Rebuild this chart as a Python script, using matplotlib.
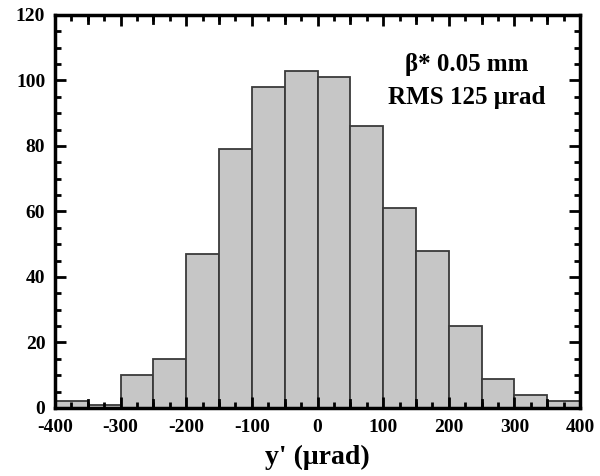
import numpy as np
import matplotlib
matplotlib.use("Agg")
import matplotlib.pyplot as plt
from matplotlib.ticker import MultipleLocator

# histogram bins of y' (urad), 50 urad wide
bin_edges = [-400, -350, -300, -250, -200, -150, -100, -50, 0,
             50, 100, 150, 200, 250, 300, 350, 400]
counts = [2, 1, 10, 15, 47, 79, 98, 103, 101, 86, 61, 48, 25, 9, 4, 2]

plt.rcParams['font.family'] = ['Liberation Serif', 'DejaVu Serif']
plt.rcParams['font.weight'] = 'bold'
plt.rcParams['axes.unicode_minus'] = False

fig = plt.figure(figsize=(6, 4.76), dpi=100)
ax = fig.add_axes([0.0917, 0.1429, 0.875, 0.8256])

lefts = np.array(bin_edges[:-1])
widths = np.diff(bin_edges)
ax.bar(lefts, counts, width=widths, align='edge', color='#c6c6c6',
       edgecolor='#3a3a3a', linewidth=1.3)

ax.set_xlim(-400, 400)
ax.set_ylim(0, 120)
ax.xaxis.set_major_locator(MultipleLocator(100))
ax.xaxis.set_minor_locator(MultipleLocator(25))
ax.yaxis.set_major_locator(MultipleLocator(20))
ax.yaxis.set_minor_locator(MultipleLocator(5))

ax.tick_params(which='both', direction='in', top=True, right=True,
               labelsize=14, width=2)
ax.tick_params(axis='x', pad=8)
ax.tick_params(axis='y', pad=7)
ax.tick_params(which='major', length=8)
ax.tick_params(which='minor', length=4)
for lbl in ax.get_xticklabels() + ax.get_yticklabels():
    lbl.set_fontweight('bold')

# unlabeled ticks at the odd 50s are longer than the 25s
for x in [-350, -250, -150, -50, 50, 150, 250, 350]:
    ax.plot([x, x], [0, 2.4], color='black', lw=2, clip_on=False)
    ax.plot([x, x], [120, 117.6], color='black', lw=2, clip_on=False)

for s in ax.spines.values():
    s.set_linewidth(2.5)

ax.set_xlabel("y' (\u03bcrad)", fontsize=20, fontweight='bold', labelpad=6)
ax.text(0.785, 0.873, "\u03b2* 0.05 mm", transform=ax.transAxes,
        ha='center', va='center', fontsize=18, fontweight='bold')
ax.text(0.785, 0.789, "RMS 125 \u03bcrad", transform=ax.transAxes,
        ha='center', va='center', fontsize=18, fontweight='bold')

fig.savefig("out.png", dpi=100)
